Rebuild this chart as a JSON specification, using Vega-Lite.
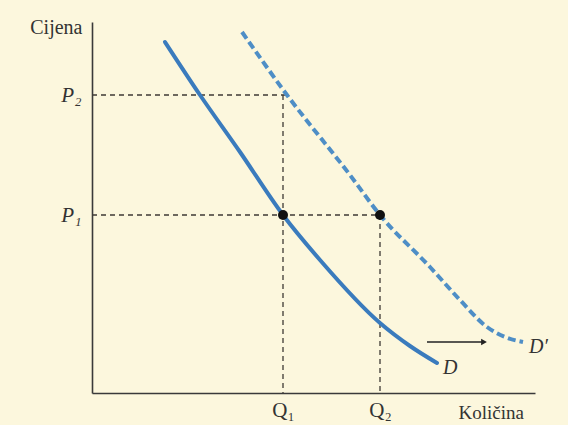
{
  "$schema": "https://vega.github.io/schema/vega-lite/v6.json",
  "width": 443,
  "height": 371,
  "autosize": {"type": "none"},
  "padding": {"left": 92, "top": 22, "right": 33, "bottom": 32},
  "background": "#fcf7dd",
  "config": {
    "view": {"stroke": null},
    "axis": {"domainColor": "#3a3a3a", "domainWidth": 1.6, "ticks": false, "grid": false, "labelFont": "Liberation Serif", "titleFont": "Liberation Serif", "labelColor": "#333333", "titleColor": "#333333"}
  },
  "datasets": {
    "curves": [
      {"curve": "D", "x": 73, "y": 351},
      {"curve": "D", "x": 108, "y": 298},
      {"curve": "D", "x": 148, "y": 241},
      {"curve": "D", "x": 191, "y": 178},
      {"curve": "D", "x": 228, "y": 133},
      {"curve": "D", "x": 288, "y": 70},
      {"curve": "D", "x": 318, "y": 47},
      {"curve": "D", "x": 345, "y": 30},
      {"curve": "D'", "x": 150, "y": 361},
      {"curve": "D'", "x": 195, "y": 298},
      {"curve": "D'", "x": 258, "y": 218},
      {"curve": "D'", "x": 288, "y": 178},
      {"curve": "D'", "x": 338, "y": 126},
      {"curve": "D'", "x": 368, "y": 93},
      {"curve": "D'", "x": 395, "y": 66},
      {"curve": "D'", "x": 413, "y": 56},
      {"curve": "D'", "x": 431, "y": 51}
    ],
    "guides": [
      {"x": 0, "y": 298, "x2": 195, "y2": 298},
      {"x": 191, "y": 298, "x2": 191, "y2": 0},
      {"x": 0, "y": 178, "x2": 288, "y2": 178},
      {"x": 288, "y": 178, "x2": 288, "y2": 0}
    ],
    "points": [
      {"x": 191, "y": 178},
      {"x": 288, "y": 178}
    ],
    "arrow": [
      {"x": 335, "y": 51, "x2": 392, "y2": 51}
    ],
    "labels": [
      {"label": "D", "x": 345, "y": 30},
      {"label": "D′", "x": 431, "y": 51}
    ]
  },
  "layer": [
    {
      "data": {"name": "guides"},
      "mark": {"type": "rule", "color": "#3e3a35", "strokeWidth": 1.3, "strokeDash": [5, 4]},
      "encoding": {
        "x": {"field": "x", "type": "quantitative", "scale": {"domain": [0, 443], "nice": false, "zero": false},
          "axis": {"values": [191, 288], "labelExpr": "datum.value == 191 ? 'Q₁' : 'Q₂'", "labelFontSize": 21, "labelPadding": 6,
            "title": "Količina", "titleFontSize": 19, "titleFontWeight": "normal", "titleAngle": 0, "titleAlign": "left", "titleAnchor": "start", "titleX": 366, "titleY": 10, "titleBaseline": "top"}},
        "y": {"field": "y", "type": "quantitative", "scale": {"domain": [0, 371], "nice": false, "zero": false},
          "axis": {"values": [178, 298], "labelExpr": "datum.value == 178 ? 'P₁' : 'P₂'", "labelFontSize": 21, "labelFontStyle": "italic", "labelPadding": 11,
            "title": "Cijena", "titleFontSize": 20, "titleFontWeight": "normal", "titleAngle": 0, "titleAlign": "right", "titleAnchor": "end", "titleX": -10, "titleY": 5, "titleBaseline": "middle"}},
        "x2": {"field": "x2"},
        "y2": {"field": "y2"}
      }
    },
    {
      "data": {"name": "curves"},
      "transform": [{"filter": "datum.curve == 'D'"}],
      "mark": {"type": "line", "color": "#3a7bbd", "strokeWidth": 4, "interpolate": "monotone", "strokeCap": "round"},
      "encoding": {
        "x": {"field": "x", "type": "quantitative"},
        "y": {"field": "y", "type": "quantitative"}
      }
    },
    {
      "data": {"name": "curves"},
      "transform": [{"filter": "datum.curve == \"D'\""}],
      "mark": {"type": "line", "color": "#4e8ec6", "strokeWidth": 4, "interpolate": "monotone", "strokeDash": [8, 4]},
      "encoding": {
        "x": {"field": "x", "type": "quantitative"},
        "y": {"field": "y", "type": "quantitative"}
      }
    },
    {
      "data": {"name": "points"},
      "mark": {"type": "point", "filled": true, "color": "#111111", "size": 100, "opacity": 1},
      "encoding": {
        "x": {"field": "x", "type": "quantitative"},
        "y": {"field": "y", "type": "quantitative"}
      }
    },
    {
      "data": {"name": "arrow"},
      "mark": {"type": "rule", "color": "#222222", "strokeWidth": 1.3},
      "encoding": {
        "x": {"field": "x", "type": "quantitative"},
        "y": {"field": "y", "type": "quantitative"},
        "x2": {"field": "x2"},
        "y2": {"field": "y2"}
      }
    },
    {
      "data": {"name": "arrow"},
      "mark": {"type": "point", "shape": "triangle-right", "filled": true, "color": "#222222", "size": 45, "opacity": 1},
      "encoding": {
        "x": {"field": "x2", "type": "quantitative"},
        "y": {"field": "y2", "type": "quantitative"}
      }
    },
    {
      "data": {"name": "labels"},
      "mark": {"type": "text", "font": "Liberation Serif", "fontStyle": "italic", "fontSize": 20, "align": "left", "dx": 6, "dy": 5, "color": "#333333"},
      "encoding": {
        "x": {"field": "x", "type": "quantitative"},
        "y": {"field": "y", "type": "quantitative"},
        "text": {"field": "label"}
      }
    }
  ]
}
